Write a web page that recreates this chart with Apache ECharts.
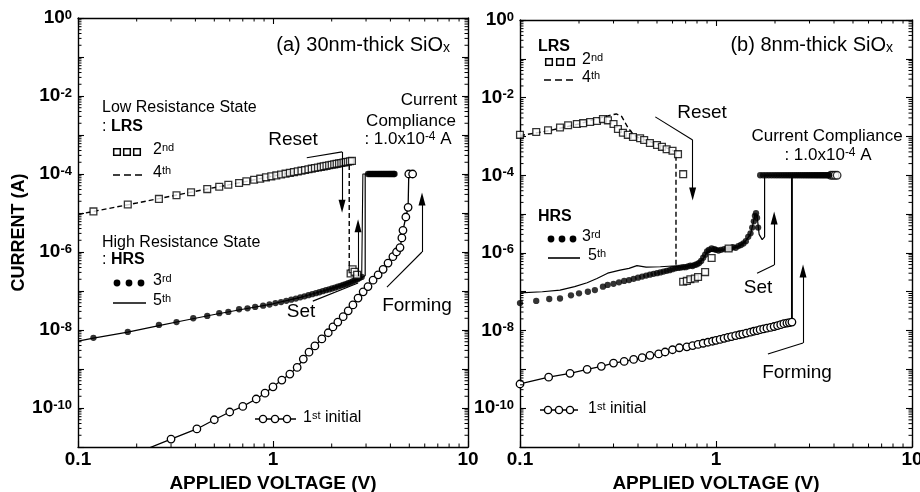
<!DOCTYPE html>
<html>
<head>
<meta charset="utf-8">
<script src="https://cdn.jsdelivr.net/npm/echarts@6/dist/echarts.min.js"></script>
<style>
  html, body { margin: 0; padding: 0; background: #fff; }
  #chart { width: 920px; height: 492px; }
</style>
</head>
<body>
<div id="chart"></div>
<script>
// ---------- Panel (a): 30 nm SiOx, [voltage (V), current (A)] ----------
const COMPLIANCE = 1.0e-4;

const aLrs2 = [[0.12,1.1e-5],[0.18,1.65e-5],[0.26,2.3e-5],[0.32,2.85e-5],[0.38,3.4e-5],[0.46,4.1e-5],
  [0.53,4.7e-5],[0.59,5.3e-5],[0.67,5.9e-5],[0.73,6.5e-5],[0.8,7.1e-5],[0.86,7.6e-5],[0.92,8.2e-5],
  [0.98,8.7e-5],[1.04,9.2e-5],[1.1,9.7e-5],[1.16,1.02e-4],[1.22,1.07e-4],[1.28,1.12e-4],[1.34,1.17e-4],
  [1.4,1.22e-4],[1.46,1.27e-4],[1.52,1.32e-4],[1.58,1.37e-4],[1.64,1.42e-4],[1.7,1.47e-4],[1.76,1.52e-4],
  [1.82,1.57e-4],[1.88,1.62e-4],[1.94,1.67e-4],[2.0,1.72e-4],[2.06,1.77e-4],[2.12,1.82e-4],[2.18,1.87e-4],
  [2.24,1.92e-4],[2.3,1.97e-4],[2.36,2.02e-4],[2.42,2.07e-4],[2.48,2.12e-4],[2.54,2.17e-4],
  [2.5,2.8e-7],[2.56,3.6e-7],[2.62,3.1e-7],[2.7,2.6e-7]];
const aLrs4 = [[0.1,9.2e-6],[0.2,1.8e-5],[0.4,3.6e-5],[0.7,6.2e-5],[1.0,8.9e-5],[1.5,1.31e-4],
  [2.0,1.73e-4],[2.46,2.12e-4],[2.46,2.8e-7]];
const aHrs3 = [[0.12,6.3e-9],[0.18,8.9e-9],[0.26,1.35e-8],[0.32,1.6e-8],[0.39,2.0e-8],[0.46,2.3e-8],
  [0.53,2.7e-8],[0.59,2.9e-8],[0.67,3.4e-8],[0.74,3.6e-8],[0.81,3.9e-8],[0.89,4.2e-8],[0.96,4.5e-8],
  [1.03,4.9e-8],[1.1,5.2e-8],[1.17,5.6e-8],[1.24,6.0e-8],[1.31,6.4e-8],[1.38,6.9e-8],[1.45,7.3e-8],
  [1.52,7.8e-8],[1.59,8.3e-8],[1.66,8.8e-8],[1.73,9.3e-8],[1.8,9.9e-8],[1.87,1.05e-7],[1.94,1.1e-7],
  [2.01,1.16e-7],[2.08,1.22e-7],[2.15,1.29e-7],[2.22,1.36e-7],[2.29,1.43e-7],[2.36,1.5e-7],[2.43,1.58e-7],
  [2.5,1.67e-7],[2.57,1.78e-7],[2.64,1.9e-7],[2.71,2.0e-7],[2.78,2.15e-7],[2.85,2.3e-7]];
const aHrs3Jump = [[2.85,2.3e-7],[2.89,2.5e-7],[2.89,1e-4],[3.07,1e-4]];
const aCcV = [3.07,3.12,3.17,3.22,3.27,3.32,3.37,3.42,3.47,3.52,3.57,3.62,3.67,3.72,3.77,3.82,3.87,
  3.92,3.97,4.02,4.07,4.12,4.17,4.2];
const aHrs5 = [[0.1,5.2e-9],[0.12,6.2e-9],[0.18,8.8e-9],[0.26,1.3e-8],[0.35,1.75e-8],[0.5,2.5e-8],
  [0.7,3.4e-8],[1.0,4.7e-8],[1.4,7.0e-8],[1.8,1.0e-7],[2.2,1.35e-7],[2.6,1.85e-7],[2.9,2.3e-7],
  [2.97,2.5e-7],[2.97,1e-4],[4.2,1e-4]];
const aInit = [[0.22,8.5e-12],[0.30,1.6e-11],[0.407,2.9e-11],[0.50,5e-11],[0.60,7.9e-11],[0.70,1.1e-10],
  [0.82,1.7e-10],[0.91,2.4e-10],[1.0,3.5e-10],[1.11,5.2e-10],[1.22,7.4e-10],[1.33,1.1e-9],[1.43,1.8e-9],
  [1.53,2.7e-9],[1.64,3.9e-9],[1.78,5.9e-9],[1.92,8.5e-9],[2.03,1.2e-8],[2.15,1.6e-8],[2.29,2.2e-8],
  [2.43,3.1e-8],[2.57,4.4e-8],[2.73,6.6e-8],[2.9,9.5e-8],[3.07,1.3e-7],[3.26,1.9e-7],[3.46,2.6e-7],
  [3.67,3.6e-7],[3.89,5.2e-7],[4.12,7.6e-7],[4.3,1.0e-6],[4.48,1.3e-6],[4.58,2.3e-6],[4.64,3.6e-6],
  [4.8,7.9e-6],[4.93,1.4e-5],[4.97,1e-4],[5.2,1e-4]];

// ---------- Panel (b): 8 nm SiOx ----------
const bLrs2 = [[0.1,1.1e-3],[0.121,1.3e-3],[0.139,1.45e-3],[0.16,1.7e-3],[0.176,1.95e-3],[0.195,2.1e-3],
  [0.21,2.2e-3],[0.228,2.35e-3],[0.247,2.5e-3],[0.265,2.8e-3],[0.281,2.6e-3],[0.3,2.1e-3],[0.316,1.55e-3],
  [0.335,1.25e-3],[0.355,1.1e-3],[0.377,9.7e-4],[0.41,9.0e-4],[0.43,8.1e-4],[0.46,6.8e-4],[0.5,6.0e-4],
  [0.53,5.4e-4],[0.56,4.7e-4],[0.6,4.3e-4],[0.64,3.5e-4],[0.68,1.07e-4],
  [0.68,1.8e-7],[0.71,1.9e-7],[0.74,2.1e-7],[0.78,2.2e-7],[0.81,2.4e-7],[0.88,3.2e-7],[0.95,7.4e-7],[1.16,1.3e-6]];
const bLrs4 = [[0.1,1.05e-3],[0.14,1.4e-3],[0.2,2.1e-3],[0.25,2.9e-3],[0.28,3.4e-3],[0.31,3.8e-3],
  [0.33,3.3e-3],[0.355,1.7e-3],[0.38,1.1e-3],[0.4,9.5e-4],[0.5,6.3e-4],[0.6,4.4e-4],[0.625,3.9e-4],[0.625,4.3e-7]];
const bHrs3 = [[0.1,5.1e-8],[0.121,5.8e-8],[0.141,6.5e-8],[0.16,6.7e-8],[0.182,8.1e-8],[0.2,9.1e-8],
  [0.222,1.0e-7],[0.241,1.1e-7],[0.265,1.35e-7],[0.28,1.5e-7],[0.3,1.6e-7],[0.32,1.75e-7],[0.34,1.9e-7],
  [0.36,2.0e-7],[0.38,2.15e-7],[0.4,2.3e-7],[0.42,2.45e-7],[0.44,2.6e-7],[0.46,2.75e-7],[0.48,2.9e-7],
  [0.5,3.0e-7],[0.52,3.15e-7],[0.54,3.3e-7],[0.56,3.45e-7],[0.58,3.6e-7],[0.6,3.8e-7],[0.62,4.0e-7],
  [0.64,4.1e-7],[0.66,4.2e-7],[0.68,4.3e-7],[0.7,4.3e-7],[0.72,4.5e-7],[0.74,4.7e-7],[0.76,4.6e-7],
  [0.78,4.9e-7],[0.8,5.1e-7],[0.82,5.5e-7],[0.84,6.2e-7],[0.86,7.5e-7],[0.88,9.0e-7],[0.9,1.1e-6],
  [0.92,1.2e-6],[0.95,1.3e-6],[0.98,1.25e-6],[1.0,1.2e-6],[1.03,1.15e-6],[1.06,1.2e-6],[1.1,1.25e-6],
  [1.14,1.3e-6],[1.18,1.28e-6],[1.22,1.4e-6],[1.26,1.35e-6],[1.3,1.5e-6],[1.34,1.6e-6],[1.38,1.75e-6],
  [1.42,2.0e-6],[1.46,2.6e-6],[1.5,3.2e-6],[1.53,4.5e-6],[1.56,6.5e-6],[1.58,9.0e-6],[1.6,1.05e-5],
  [1.62,8.0e-6],[1.64,4.5e-6]];
const bCcV = [1.68,1.74,1.8,1.86,1.92,1.98,2.04,2.1,2.16,2.22,2.28,2.34,2.4,2.46,2.52,2.58,2.64,2.7,
  2.76,2.82,2.88,2.94,3.0,3.06,3.12,3.18,3.24,3.3,3.36,3.42,3.48,3.54,3.6,3.66,3.72,3.78];
const bHrs5 = [[0.1,9.3e-8],[0.13,1.0e-7],[0.16,1.1e-7],[0.19,1.35e-7],[0.22,1.7e-7],[0.247,2.2e-7],
  [0.28,3.0e-7],[0.324,3.6e-7],[0.36,4.0e-7],[0.395,4.7e-7],[0.44,4.3e-7],[0.52,4.4e-7],[0.6,4.6e-7],
  [0.66,4.3e-7],[0.72,4.6e-7],[0.8,5.2e-7],[0.86,7.0e-7],[0.9,1.05e-6],[1.0,1.15e-6],[1.1,1.2e-6],
  [1.2,1.3e-6],[1.3,1.45e-6],[1.4,1.9e-6],[1.5,3.0e-6],[1.55,6.0e-6],[1.58,1.0e-5],[1.62,9.0e-6],
  [1.66,3.0e-6],[1.72,2.2e-6],[1.77,2.6e-6],[1.77,1e-4],[3.3,1e-4]];
const bInit = [[0.1,4.2e-10],[0.14,6.3e-10],[0.18,7.9e-10],[0.22,1.0e-9],[0.26,1.2e-9],[0.3,1.45e-9],
  [0.34,1.6e-9],[0.38,1.8e-9],[0.42,2.0e-9],[0.46,2.3e-9],[0.51,2.5e-9],[0.55,2.8e-9],[0.6,3.2e-9],
  [0.65,3.6e-9],[0.71,3.8e-9],[0.76,4.1e-9],[0.81,4.4e-9],[0.86,4.7e-9],[0.91,5.0e-9],[0.96,5.3e-9],
  [1.0,5.6e-9],[1.05,5.9e-9],[1.1,6.3e-9],[1.15,6.7e-9],[1.2,7.0e-9],[1.26,7.4e-9],[1.32,7.8e-9],
  [1.37,8.1e-9],[1.43,8.6e-9],[1.5,9.1e-9],[1.56,9.6e-9],[1.62,1.0e-8],[1.68,1.05e-8],[1.75,1.1e-8],
  [1.82,1.15e-8],[1.9,1.2e-8],[1.98,1.27e-8],[2.06,1.34e-8],[2.14,1.42e-8],[2.22,1.5e-8],[2.3,1.56e-8],
  [2.37,1.6e-8],[2.44,1.65e-8]];
const bInitJump = [[2.44,1.65e-8],[2.44,1e-4],[4.15,1e-4]];
const bInitCcV = [3.85,3.95,4.05,4.15];

// ---------- Axis tick labels ----------
const xTickText = ['0.1', '1', '10'];          // 10^-1, 10^0, 10^1
const yLabelExp = [0, -2, -4, -6, -8, -10];     // labelled decades

// ---------- Annotation arrows: [from, to, arrowhead] ----------
const aArrows = [
  [[1.49,2.6e-4],[2.26,3.7e-4],false], [[2.26,3.7e-4],[2.26,1.5e-5],true],     // Reset
  [[1.6,5.5e-8],[2.73,1.6e-7],false],  [[2.73,2.4e-7],[2.73,4.7e-6],true],     // Set
  [[3.84,1.26e-7],[5.81,1.0e-6],false],[[5.81,1.0e-6],[5.81,2.3e-5],true]      // Forming
];
const bArrows = [
  [[0.49,3.2e-3],[0.76,8.1e-4],false], [[0.76,8.1e-4],[0.76,3.3e-5],true],     // Reset
  [[1.62,3.0e-7],[1.98,4.9e-7],false], [[1.98,4.9e-7],[1.98,7.9e-6],true],     // Set
  [[1.84,2.5e-9],[2.78,4.8e-9],false], [[2.78,4.8e-9],[2.78,3.4e-7],true]      // Forming
];

const F = 'Liberation Sans';
const BLACK = '#000';

// minor tick positions (2..9 within each decade)
const xMinor = [], yMinor = [];
for (let k = -1; k <= 0; k++) for (let m = 2; m <= 9; m++) xMinor.push(m * Math.pow(10, k));
for (let k = -11; k <= -1; k++) for (let m = 2; m <= 9; m++) yMinor.push(m * Math.pow(10, k));

const exp10 = v => Math.round(Math.log10(v));

function xAxisDef(gi, pos) {
  const bottom = pos === 'bottom';
  return {
    type: 'log', logBase: 10, gridIndex: gi, position: pos,
    min: 0.1, max: 10, interval: 1, splitNumber: 2,
    axisLine: { show: true, onZero: false, lineStyle: { color: BLACK, width: 1.4 } },
    axisTick: { show: true, inside: true, length: 6, lineStyle: { color: BLACK, width: 1.1 } },
    splitLine: { show: false },
    axisLabel: bottom ? {
      show: true, margin: 3, color: BLACK, fontFamily: F, fontWeight: 'bold', fontSize: 19,
      formatter: v => xTickText[exp10(v) + 1] || ''
    } : { show: false },
    name: bottom ? 'APPLIED VOLTAGE (V)' : '',
    nameLocation: 'middle', nameGap: 22,
    nameTextStyle: { color: BLACK, fontFamily: F, fontWeight: 'bold', fontSize: 19 }
  };
}

function yAxisDef(gi, pos, title) {
  const left = pos === 'left';
  return {
    type: 'log', logBase: 10, gridIndex: gi, position: pos,
    min: 1e-11, max: 1, interval: 1, splitNumber: 11,
    axisLine: { show: true, onZero: false, lineStyle: { color: BLACK, width: 1.4 } },
    axisTick: { show: true, inside: true, length: 6, lineStyle: { color: BLACK, width: 1.1 } },
    splitLine: { show: false },
    axisLabel: left ? {
      show: true, margin: 6, color: BLACK,
      formatter: v => {
        const e = exp10(v);
        return yLabelExp.indexOf(e) >= 0 ? '{b|10}{s|' + e + '}' : '';
      },
      rich: {
        b: { fontFamily: F, fontWeight: 'bold', fontSize: 19, lineHeight: 19, verticalAlign: 'bottom', color: BLACK },
        s: { fontFamily: F, fontWeight: 'bold', fontSize: 13, lineHeight: 13, padding: [0, 0, 9, 0], verticalAlign: 'top', color: BLACK }
      }
    } : { show: false },
    name: title || '', nameLocation: 'middle', nameGap: 50, nameRotate: 90,
    nameTextStyle: { color: BLACK, fontFamily: F, fontWeight: 'bold', fontSize: 18 }
  };
}

const base = gi => ({ xAxisIndex: gi * 2, yAxisIndex: gi * 2, silent: true, animation: false,
  emphasis: { disabled: true } });

function lineS(gi, data, opts) {
  return Object.assign(base(gi), {
    type: 'line', data: data, showSymbol: false, symbol: 'none',
    lineStyle: { color: BLACK, width: opts.width || 1.2, type: opts.dash ? [5, 3] : 'solid' },
    z: opts.z || 2
  });
}
function circleLineS(gi, data) {
  return Object.assign(base(gi), {
    type: 'line', data: data, symbol: 'circle', symbolSize: 7.5, showSymbol: true, showAllSymbol: true,
    itemStyle: { color: '#fff', borderColor: BLACK, borderWidth: 1.3 },
    lineStyle: { color: BLACK, width: 1.3 }, z: 3
  });
}
function scatterS(gi, data, kind) {
  const st = {
    square: { symbol: 'rect', symbolSize: 6.8, itemStyle: { color: '#fff', borderColor: BLACK, borderWidth: 1.3 } },
    dot: { symbol: 'circle', symbolSize: 6.3, itemStyle: { color: BLACK } },
    ring: { symbol: 'circle', symbolSize: 7.5, itemStyle: { color: '#fff', borderColor: BLACK, borderWidth: 1.3 } }
  }[kind];
  return Object.assign(base(gi), { type: 'scatter', data: data, z: 4 }, st);
}
function arrowS(gi, arrows) {
  return Object.assign(base(gi), {
    type: 'line', data: [],
    markLine: {
      silent: true, animation: false, symbol: ['none', 'none'], label: { show: false },
      lineStyle: { color: BLACK, width: 1.1, type: 'solid' },
      emphasis: { disabled: true },
      data: arrows.map(a => [
        { coord: a[0], symbol: 'none' },
        { coord: a[1], symbol: a[2] ? 'triangle' : 'none', symbolSize: a[2] ? [7, 13] : 0 }
      ])
    }
  });
}
function minorTickS(gi) {
  const seg = (x1, y1, x2, y2) => ({ type: 'line', shape: { x1, y1, x2, y2 },
    style: { stroke: BLACK, lineWidth: 1 } });
  return Object.assign(base(gi), {
    type: 'custom', data: [[1, 1e-5]], z: 6,
    renderItem: (params, api) => {
      const lb = api.coord([0.1, 1e-11]);
      const rt = api.coord([10, 1]);
      const ch = [];
      xMinor.forEach(v => {
        const x = api.coord([v, 1e-5])[0];
        ch.push(seg(x, lb[1], x, lb[1] - 3.5), seg(x, rt[1], x, rt[1] + 3.5));
      });
      yMinor.forEach(v => {
        const y = api.coord([1, v])[1];
        ch.push(seg(lb[0], y, lb[0] + 3.5, y), seg(rt[0], y, rt[0] - 3.5, y));
      });
      return { type: 'group', children: ch };
    }
  });
}

const cc = vs => vs.map(v => [v, COMPLIANCE]);

const series = [
  // panel (a)
  lineS(0, aLrs4, { dash: true, width: 1.4 }),
  lineS(0, aHrs5, { width: 1.2 }),
  lineS(0, aHrs3Jump, { width: 1.1 }),
  circleLineS(0, aInit),
  scatterS(0, aHrs3.concat(cc(aCcV)), 'dot'),
  scatterS(0, aLrs2, 'square'),
  arrowS(0, aArrows),
  minorTickS(0),
  // panel (b)
  lineS(1, bLrs4, { dash: true, width: 1.4 }),
  lineS(1, bHrs5, { width: 1.2 }),
  circleLineS(1, bInit),
  lineS(1, bInitJump, { width: 1.9 }),
  scatterS(1, cc(bInitCcV), 'ring'),
  scatterS(1, bHrs3.concat(cc(bCcV)), 'dot'),
  scatterS(1, bLrs2, 'square'),
  arrowS(1, bArrows),
  minorTickS(1)
];

// ---------- Text annotations and legend keys ----------
function rich(size) {
  const s = Math.round(size * 0.68);
  const u = Math.round(size * 0.7);
  return {
    r: { fontFamily: F, fontSize: size, lineHeight: size, verticalAlign: 'bottom', fill: BLACK, color: BLACK },
    b: { fontFamily: F, fontSize: size, fontWeight: 'bold', lineHeight: size, verticalAlign: 'bottom', fill: BLACK, color: BLACK },
    s: { fontFamily: F, fontSize: s, lineHeight: s, padding: [0, 0, Math.round(size * 0.58), 0], verticalAlign: 'top', fill: BLACK, color: BLACK },
    t: { fontFamily: F, fontSize: size, lineHeight: size, verticalAlign: 'top', fill: BLACK, color: BLACK },
    u: { fontFamily: F, fontSize: u, lineHeight: u, padding: [Math.round(size * 0.55), 0, 0, 0], verticalAlign: 'bottom', fill: BLACK, color: BLACK }
  };
}
function T(x, y, text, size, align) {
  const a = align || 'left';
  return { type: 'text', x: x, y: y, silent: true, z: 10,
    style: { text: text, rich: rich(size), fill: BLACK, font: size + 'px "' + F + '"',
      align: a, textAlign: a, verticalAlign: 'middle', textVerticalAlign: 'middle' } };
}
const sq = (cx, cy) => ({ type: 'rect', silent: true, z: 10,
  shape: { x: cx - 3.3, y: cy - 3.3, width: 6.6, height: 6.6 },
  style: { fill: '#fff', stroke: BLACK, lineWidth: 1.5 } });
const dot = (cx, cy) => ({ type: 'circle', silent: true, z: 10, shape: { cx, cy, r: 3.4 },
  style: { fill: BLACK } });
const ring = (cx, cy) => ({ type: 'circle', silent: true, z: 11, shape: { cx, cy, r: 3.6 },
  style: { fill: '#fff', stroke: BLACK, lineWidth: 1.4 } });
const ln = (x1, x2, y, dash) => ({ type: 'line', silent: true, z: 10, shape: { x1, y1: y, x2, y2: y },
  style: { stroke: BLACK, lineWidth: 1.6, lineDash: dash ? [7, 4] : null } });

const graphics = [
  // panel (a)
  T(450, 45, '{t|(a) 30nm-thick SiO}{u|x}', 20, 'right'),
  T(102, 108, '{r|Low Resistance State}', 16),
  T(102, 127, '{r|: }{b|LRS}', 16),
  sq(117, 152), sq(127, 152), sq(137, 152),
  T(153, 150, '{r|2}{s|nd}', 16),
  ln(113, 146, 175, true),
  T(153, 173, '{r|4}{s|th}', 16),
  T(102, 243, '{r|High Resistance State}', 16),
  T(102, 260, '{r|: }{b|HRS}', 16),
  dot(117, 283), dot(129, 283), dot(141, 283),
  T(153, 281, '{r|3}{s|rd}', 16),
  ln(113, 146, 303, false),
  T(153, 301, '{r|5}{s|th}', 16),
  ln(255, 296, 419, false), ring(263, 419), ring(275, 419), ring(287, 419),
  T(303, 418, '{r|1}{s|st}{r| initial}', 16),
  T(429, 100, '{r|Current}', 17, 'center'),
  T(411, 121, '{r|Compliance}', 17, 'center'),
  T(408, 139, '{r|: 1.0x10}{s|-4}{r| A}', 17, 'center'),
  T(293, 140, '{r|Reset}', 19, 'center'),
  T(301, 312, '{r|Set}', 19, 'center'),
  T(417, 306, '{r|Forming}', 19, 'center'),
  // panel (b)
  T(893, 45, '{t|(b) 8nm-thick SiO}{u|x}', 20, 'right'),
  T(538, 47, '{b|LRS}', 16),
  sq(549, 62), sq(560, 62), sq(571, 62),
  T(582, 60, '{r|2}{s|nd}', 16),
  ln(544, 577, 80, true),
  T(582, 78, '{r|4}{s|th}', 16),
  T(538, 217, '{b|HRS}', 16),
  dot(551, 239), dot(562, 239), dot(573, 239),
  T(582, 237, '{r|3}{s|rd}', 16),
  ln(548, 580, 258, false),
  T(588, 256, '{r|5}{s|th}', 16),
  ln(540, 578, 410, false), ring(548, 410), ring(559, 410), ring(570, 410),
  T(588, 409, '{r|1}{s|st}{r| initial}', 16),
  T(827, 136, '{r|Current Compliance}', 17, 'center'),
  T(828, 155, '{r|: 1.0x10}{s|-4}{r| A}', 17, 'center'),
  T(702, 113, '{r|Reset}', 19, 'center'),
  T(758, 288, '{r|Set}', 19, 'center'),
  T(797, 373, '{r|Forming}', 19, 'center')
];

const chart = echarts.init(document.getElementById('chart'), null, { renderer: 'canvas' });
chart.setOption({
  animation: false,
  backgroundColor: '#fff',
  grid: [
    { left: 78, top: 18, width: 390, height: 429, containLabel: false, outerBoundsMode: 'none' },
    { left: 520, top: 20, width: 392, height: 427, containLabel: false, outerBoundsMode: 'none' }
  ],
  xAxis: [xAxisDef(0, 'bottom'), xAxisDef(0, 'top'), xAxisDef(1, 'bottom'), xAxisDef(1, 'top')],
  yAxis: [yAxisDef(0, 'left', 'CURRENT (A)'), yAxisDef(0, 'right'), yAxisDef(1, 'left'), yAxisDef(1, 'right')],
  series: series,
  graphic: graphics
});
</script>
</body>
</html>
